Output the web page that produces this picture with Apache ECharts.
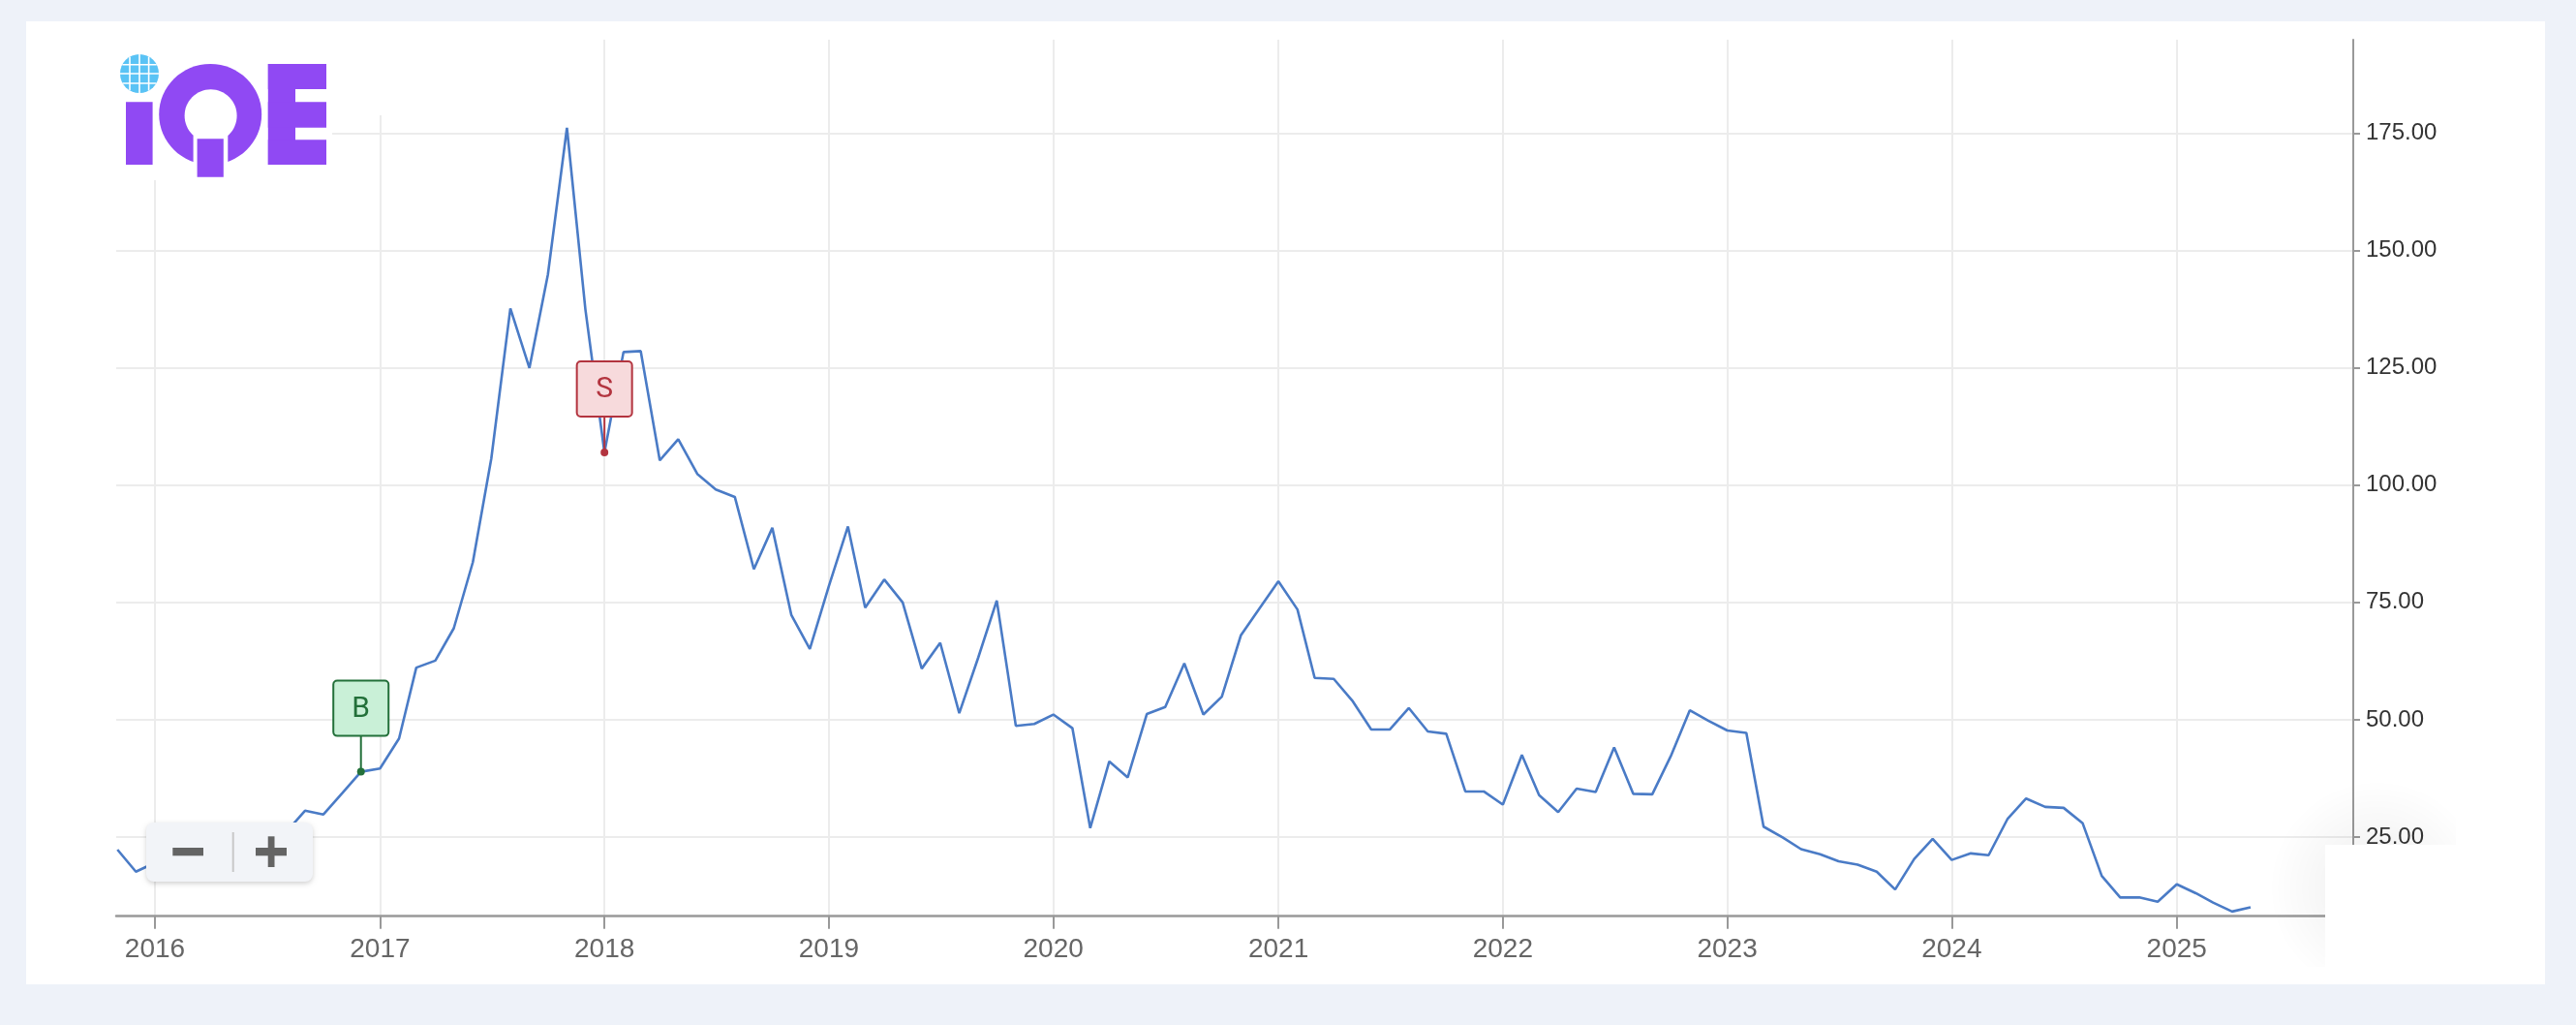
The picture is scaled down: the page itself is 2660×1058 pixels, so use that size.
<!DOCTYPE html>
<html>
<head>
<meta charset="utf-8">
<script src="https://cdn.jsdelivr.net/npm/echarts@6/dist/echarts.min.js"></script>
<style>
  html, body { margin: 0; padding: 0; background: #eef2f9; }
  #card { position: absolute; left: 27px; top: 22px; width: 2601px; height: 994px; background: #fff; }
  #chart { position: absolute; left: 0; top: 0; width: 2660px; height: 1058px; }
</style>
</head>
<body>
<div id="card"></div>
<div id="chart"></div>
<script>
// Monthly closes, one point on the first day of each month, starting Nov 2015
const firstMonth = { year: 2015, month: 10 }; // 0-based month: November
const prices = [
  22.3, 17.6,                                                                     // 2015 Nov-Dec
  19.5, 18.5, 20.5, 21.0, 22.5, 24.5, 23.5, 26.0, 30.6, 29.8, 34.4, 38.9,         // 2016
  39.6, 46.0, 61.1, 62.6, 69.5, 83.6, 105.7, 137.7, 125.0, 144.9, 176.2, 137.5,   // 2017
  107.0, 128.4, 128.6, 105.3, 109.8, 102.4, 99.1, 97.5, 82.1, 90.9, 72.3, 65.1,   // 2018
  78.5, 91.2, 73.9, 79.9, 75.0, 60.9, 66.4, 51.4, 63.3, 75.4, 48.7, 49.1,         // 2019
  51.1, 48.2, 26.9, 41.1, 37.7, 51.2, 52.7, 62.0, 51.1, 54.9, 68.0, 73.7,         // 2020
  79.5, 73.5, 58.9, 58.7, 54.1, 47.9, 47.9, 52.5, 47.5, 47.0, 34.7, 34.7,         // 2021
  31.9, 42.5, 33.9, 30.3, 35.3, 34.6, 44.1, 34.2, 34.1, 42.2, 52.0, 49.8,         // 2022
  47.7, 47.2, 27.2, 24.9, 22.4, 21.3, 19.8, 19.1, 17.6, 13.8, 20.3, 24.6,         // 2023
  20.1, 21.5, 21.1, 28.9, 33.2, 31.4, 31.2, 27.9, 16.7, 12.1, 12.1, 11.2,         // 2024
  14.9, 13.0, 11.0, 9.1, 10.0                                                     // 2025 Jan-May
];
const tickYears = [2016, 2017, 2018, 2019, 2020, 2021, 2022, 2023, 2024, 2025];
const priceTicks = [25, 50, 75, 100, 125, 150, 175];
const tradeMarkers = [
  { label: 'B', year: 2016, month: 11, price: 38.9 },
  { label: 'S', year: 2018, month: 0, price: 107.0 }
];
const xRange = [ Date.UTC( 2015, 9, 30 ), Date.UTC( 2025, 9, 15 ) ];
const yRange = [ 8.1, 195 ];

const fontFamily = '"Liberation Sans", Arial, Helvetica, sans-serif';
const markerLooks = {
  B: { fill: '#c9f0d7', stroke: '#23703a' },
  S: { fill: '#f7dadc', stroke: '#b3343f' }
};
const purple = '#9049f3';

const lineData = prices.map( ( price, i ) => [ Date.UTC( firstMonth.year, firstMonth.month + i, 1 ), price ] );
const yearTickValues = tickYears.map( ( y ) => Date.UTC( y, 0, 1 ) );
const markerData = tradeMarkers.map( ( m ) => [ Date.UTC( m.year, m.month, 1 ), m.price ] );

function renderTradeMarker( params, api ) {
  const marker = tradeMarkers[ params.dataIndex ];
  const look = markerLooks[ marker.label ];
  const pt = api.coord( [ api.value( 0 ), api.value( 1 ) ] );
  const boxSize = 57;
  const stem = 37;
  const boxTop = pt[ 1 ] - stem - boxSize;
  return {
    type: 'group',
    children: [
      { type: 'line', shape: { x1: pt[ 0 ], y1: pt[ 1 ], x2: pt[ 0 ], y2: pt[ 1 ] - stem },
        style: { stroke: look.stroke, lineWidth: 2 } },
      { type: 'rect', shape: { x: pt[ 0 ] - boxSize / 2, y: boxTop, width: boxSize, height: boxSize, r: 4 },
        style: { fill: look.fill, stroke: look.stroke, lineWidth: 2 } },
      { type: 'text', style: { text: marker.label, x: pt[ 0 ], y: boxTop + boxSize / 2 + 1, align: 'center',
        verticalAlign: 'middle', fill: look.stroke, font: '30px Roboto, ' + fontFamily } },
      { type: 'circle', shape: { cx: pt[ 0 ], cy: pt[ 1 ], r: 4 }, style: { fill: look.stroke } }
    ]
  };
}

// Logo and page chrome (not data)
function globeLines() {
  const cx = 144, cy = 76, r = 20;
  const lines = [];
  [ -10, 0, 9.6 ].forEach( ( dx ) => {
    const h = Math.sqrt( r * r - dx * dx );
    lines.push( { type: 'line', z: 6, shape: { x1: cx + dx, y1: cy - h, x2: cx + dx, y2: cy + h },
      style: { stroke: '#fff', lineWidth: 1.6 } } );
  } );
  [ -9.3, 0, 10 ].forEach( ( dy ) => {
    const w = Math.sqrt( r * r - dy * dy );
    lines.push( { type: 'line', z: 6, shape: { x1: cx - w, y1: cy + dy, x2: cx + w, y2: cy + dy },
      style: { stroke: '#fff', lineWidth: 1.6 } } );
  } );
  return lines;
}

const graphics = [
  // logo backdrop hides grid lines
  { type: 'rect', z: 5, shape: { x: 117, y: 40, width: 226, height: 146 }, style: { fill: '#fff' } },
  { type: 'rect', z: 5, shape: { x: 342, y: 40, width: 70, height: 79 }, style: { fill: '#fff' } },
  { type: 'circle', z: 6, shape: { cx: 144, cy: 76, r: 20 }, style: { fill: '#5ac3f5' } },
  ...globeLines(),
  { type: 'rect', z: 6, shape: { x: 130, y: 105.3, width: 27.6, height: 64.7 }, style: { fill: purple } },
  { type: 'ellipse', z: 6, shape: { cx: 217.2, cy: 118, rx: 53, ry: 52 }, style: { fill: purple } },
  { type: 'ellipse', z: 6, shape: { cx: 217.6, cy: 119.5, rx: 27, ry: 27.2 }, style: { fill: '#fff' } },
  { type: 'rect', z: 6, shape: { x: 199.6, y: 140, width: 35.7, height: 32 }, style: { fill: '#fff' } },
  { type: 'rect', z: 6, shape: { x: 203.6, y: 143.3, width: 27.2, height: 39.4 }, style: { fill: purple } },
  { type: 'rect', z: 6, shape: { x: 276.8, y: 66, width: 28.2, height: 104 }, style: { fill: purple } },
  { type: 'rect', z: 6, shape: { x: 276.8, y: 66, width: 60.2, height: 26 }, style: { fill: purple } },
  { type: 'rect', z: 6, shape: { x: 276.8, y: 105.3, width: 60.2, height: 26.4 }, style: { fill: purple } },
  { type: 'rect', z: 6, shape: { x: 276.8, y: 144.3, width: 60.2, height: 25.7 }, style: { fill: purple } },
  // zoom control
  { type: 'rect', z: 10, shape: { x: 151, y: 849, width: 172, height: 61, r: 8 },
    style: { fill: '#f2f4f8', shadowBlur: 5, shadowOffsetY: 2, shadowColor: 'rgba(0,0,0,0.18)' } },
  { type: 'rect', z: 11, shape: { x: 178.3, y: 875, width: 31.7, height: 8.3 }, style: { fill: '#646464' } },
  { type: 'line', z: 11, shape: { x1: 240.7, y1: 859, x2: 240.7, y2: 900 }, style: { stroke: '#c8c8c8', lineWidth: 2 } },
  { type: 'rect', z: 11, shape: { x: 264, y: 875, width: 32, height: 8.3 }, style: { fill: '#646464' } },
  { type: 'rect', z: 11, shape: { x: 276.7, y: 863.3, width: 6.8, height: 31.7 }, style: { fill: '#646464' } },
  // faded overlay panel bottom right
  { type: 'rect', z: 9, shape: { x: 2333, y: 795, width: 203, height: 203 },
    style: { fill: { type: 'radial', x: 0.6, y: 0.6, r: 0.55,
      colorStops: [ { offset: 0, color: 'rgba(0,0,0,0.07)' }, { offset: 1, color: 'rgba(0,0,0,0)' } ] } } },
  { type: 'rect', z: 10, shape: { x: 2401, y: 872, width: 227, height: 126 }, style: { fill: '#fff' } }
];

const chart = echarts.init( document.getElementById( 'chart' ) );
chart.setOption( {
  animation: false,
  backgroundColor: 'transparent',
  textStyle: { fontFamily: fontFamily },
  grid: { left: 120, right: 230, top: 41, bottom: 112.3, containLabel: false },
  xAxis: {
    type: 'value',
    min: xRange[ 0 ],
    max: xRange[ 1 ],
    axisLine: { show: true, onZero: false, lineStyle: { color: '#999', width: 2.5 } },
    axisTick: { show: true, length: 13, customValues: yearTickValues, lineStyle: { color: '#999', width: 2 } },
    axisLabel: {
      customValues: yearTickValues,
      formatter: ( v ) => String( new Date( v ).getUTCFullYear() ),
      fontSize: 28,
      color: '#666',
      margin: 21,
      fontFamily: fontFamily
    },
    splitLine: { show: true, lineStyle: { color: '#ececec', width: 2 } }
  },
  yAxis: {
    type: 'value',
    position: 'right',
    min: yRange[ 0 ],
    max: yRange[ 1 ],
    axisLine: { show: true, lineStyle: { color: '#999', width: 2 } },
    axisTick: { show: true, length: 7, customValues: priceTicks, lineStyle: { color: '#999', width: 2 } },
    axisLabel: {
      customValues: priceTicks,
      formatter: ( v ) => v.toFixed( 2 ),
      fontSize: 24,
      color: '#333',
      margin: 13,
      fontFamily: fontFamily
    },
    splitLine: { show: true, lineStyle: { color: '#ececec', width: 2 } }
  },
  series: [
    {
      type: 'line',
      data: lineData,
      showSymbol: false,
      z: 2,
      lineStyle: { color: '#4a7bc6', width: 2.6 }
    },
    {
      type: 'custom',
      data: markerData,
      renderItem: renderTradeMarker,
      clip: false,
      z: 4
    }
  ],
  graphic: graphics
} );
</script>
</body>
</html>
